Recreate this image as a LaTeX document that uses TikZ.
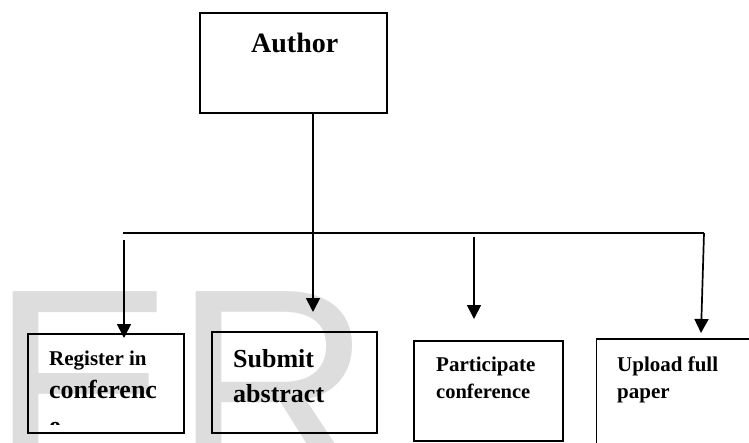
\documentclass[tikz,border=0pt]{standalone}
\usepackage{fontspec}
\setmainfont{Liberation Serif}
\newfontfamily\wmfont{Liberation Sans}
\usetikzlibrary{arrows.meta}
\definecolor{wmgray}{RGB}{221,221,221}
\tikzset{
  boxstyle/.style={draw=black, line width=1.5pt, inner sep=0pt},
  txt/.style={anchor=base west, inner sep=0pt, font=\bfseries},
  conn/.style={line width=1.7pt},
  arr/.style={line width=1.7pt, -{Triangle[width=14pt,length=14pt]}},
  wm/.style={anchor=base west, inner sep=0pt, text=wmgray, font=\wmfont\fontsize{276}{276}\selectfont}
}
\begin{document}
\begin{tikzpicture}[x=1pt,y=-1pt]
\useasboundingbox (0,0) rectangle (749,442);
\clip (0,0) rectangle (749,442);
\fill[white] (0,0) rectangle (749,442);
% watermark
\node[wm] (wmE) at (-10,481) {E};
\node[wm] (wmR) at (173,481) {R};
% boxes
\node[boxstyle, minimum width=187pt, minimum height=100pt] (author) at (293.5,63) {};
\node[boxstyle, minimum width=156pt, minimum height=99pt] (register) at (106,383.5) {};
\node[boxstyle, minimum width=165pt, minimum height=101pt] (submit) at (294.5,382.5) {};
\node[boxstyle, minimum width=149pt, minimum height=100pt] (participate) at (488.5,391) {};
\node[boxstyle, minimum width=170pt, minimum height=110pt] (upload) at (681.5,394) {};
% texts
\node[txt, font=\bfseries\fontsize{28}{28}\selectfont] (tauthor) at (251,52) {Author};
\begin{scope}
\clip (30,336) rectangle (182,424.5);
\node[txt, font=\bfseries\fontsize{21}{21}\selectfont] (treg1) at (49,365) {Register in};
\node[txt, font=\bfseries\fontsize{26}{26}\selectfont] (treg2) at (49,398) {conferenc};
\node[txt, font=\bfseries\fontsize{26}{26}\selectfont] (treg3) at (49,434) {e};
\end{scope}
\node[txt, font=\bfseries\fontsize{26}{26}\selectfont] (tsub1) at (233,367) {Submit};
\node[txt, font=\bfseries\fontsize{26}{26}\selectfont] (tsub2) at (233,402) {abstract};
\node[txt, font=\bfseries\fontsize{21}{21}\selectfont] (tpar1) at (436,371) {Participate};
\node[txt, font=\bfseries\fontsize{20.5}{20.5}\selectfont] (tpar2) at (436,398) {conference};
\node[txt, font=\bfseries\fontsize{21}{21}\selectfont] (tup1) at (617,371) {Upload full};
\node[txt, font=\bfseries\fontsize{21}{21}\selectfont] (tup2) at (617,398) {paper};
% connector coordinates
\coordinate (hl) at (123,233);
\coordinate (hr) at (704,233);
\coordinate (s1) at (124,240);
\coordinate (t1) at (124,338);
\coordinate (t2) at (313,312);
\coordinate (s3) at (474,237);
\coordinate (t3) at (474,319);
\coordinate (t4) at (701,333);
% connectors
\draw[arr] (author.south -| t2) -- (t2);
\draw[conn] (hl) -- (hr);
\draw[arr] (hr) -- (t4);
\draw[arr] (s1) -- (t1);
\draw[arr] (s3) -- (t3);
\end{tikzpicture}
\end{document}
